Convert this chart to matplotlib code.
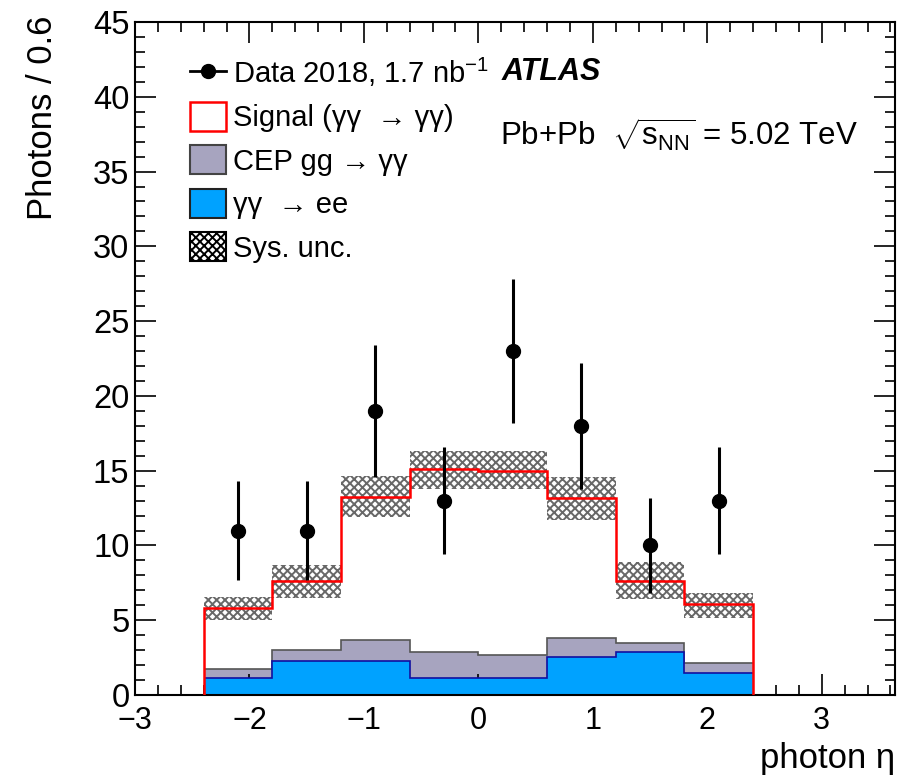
import matplotlib
matplotlib.use("Agg")
import matplotlib.pyplot as plt
from matplotlib.lines import Line2D
from matplotlib.patches import Patch
from matplotlib.ticker import MultipleLocator

plt.rcParams['font.family'] = ['Liberation Sans', 'DejaVu Sans']
plt.rcParams['mathtext.fontset'] = 'custom'
plt.rcParams['mathtext.rm'] = 'Liberation Sans'
plt.rcParams['mathtext.it'] = 'Liberation Sans:italic'
plt.rcParams['hatch.linewidth'] = 1.4

# binning in photon eta
edges = [-2.4, -1.8, -1.2, -0.6, 0.0, 0.6, 1.2, 1.8, 2.4]
centers = [-2.1, -1.5, -0.9, -0.3, 0.3, 0.9, 1.5, 2.1]

# data
data = [11, 11, 19, 13, 23, 18, 10, 13]
data_err = [3.3, 3.3, 4.4, 3.6, 4.8, 4.2, 3.2, 3.6]

# stacked predictions
ee = [1.16, 2.29, 2.29, 1.16, 1.16, 2.56, 2.85, 1.45]          # gamma gamma -> ee
ee_cep = [1.71, 3.0, 3.67, 2.9, 2.67, 3.83, 3.45, 2.12]         # + CEP gg -> gamma gamma
total = [5.8, 7.6, 13.25, 15.1, 15.0, 13.15, 7.65, 6.08]       # + signal
sys_hi = [6.57, 8.7, 14.64, 16.33, 16.3, 14.55, 8.91, 6.84]
sys_lo = [5.01, 6.46, 11.92, 13.8, 13.8, 11.73, 6.39, 5.17]

fig = plt.figure(figsize=(9.08, 7.77), dpi=100)
ax = fig.add_axes([0.1487, 0.1055, 0.837, 0.8662])

blue = '#00a2ff'
grey = '#a7a4bf'

ax.stairs(ee_cep, edges, baseline=ee, fill=True, color=grey, zorder=1)
ax.stairs(ee_cep, edges, baseline=None, color='#555555', lw=1.2, zorder=2)
ax.stairs(ee, edges, baseline=0, fill=True, color=blue, zorder=2)
ax.stairs(ee, edges, baseline=None, color='#1010a0', lw=1.2, zorder=3)

ax.stairs(sys_hi, edges, baseline=sys_lo, fill=True, facecolor='none',
          edgecolor='#686868', hatch='xxxx', lw=0, zorder=3)
ax.axhline(0, color='#ff8080', lw=1.8, zorder=1)
ax.stairs(total, edges, baseline=0, color='red', lw=1.8, zorder=4)

ax.errorbar(centers, data, yerr=data_err, fmt='o', color='black', ms=10,
            elinewidth=2.2, capsize=0, zorder=5)

ax.set_xlim(-3, 3.64)
ax.set_ylim(0, 45)
ax.xaxis.set_major_locator(MultipleLocator(1))
ax.xaxis.set_minor_locator(MultipleLocator(0.2))
ax.yaxis.set_major_locator(MultipleLocator(5))
ax.yaxis.set_minor_locator(MultipleLocator(1))
ax.tick_params(which='both', direction='in', top=True, right=True, width=1.2)
ax.tick_params(which='major', length=15)
ax.tick_params(which='minor', length=7.5)
ax.tick_params(axis='x', pad=8, labelsize=22)
ax.tick_params(axis='y', pad=4, labelsize=23.5)
for s in ax.spines.values():
    s.set_linewidth(1.5)

ax.set_ylabel('Photons / 0.6', fontsize=25, loc='top')
ax.yaxis.set_label_coords(-0.10, 1.01)
ax.set_xlabel('photon η', fontsize=25, loc='right')
ax.xaxis.set_label_coords(1.0, -0.07)

handles = [
    Line2D([], [], color='black', marker='o', ms=10, lw=2),
    Patch(facecolor='white', edgecolor='red', lw=1.8),
    Patch(facecolor=grey, edgecolor='#444444', lw=1.5),
    Patch(facecolor=blue, edgecolor='#222222', lw=1.5),
    Patch(facecolor='white', edgecolor='black', hatch='xxxx', lw=1.5),
]
labels = [r'Data 2018, 1.7 nb$^{\mathregular{-1}}$', 'Signal (γγ  → γγ)',
          'CEP gg → γγ', 'γγ  → ee', 'Sys. unc.']
ax.legend(handles, labels, loc='upper left', bbox_to_anchor=(0.072, 0.95),
          frameon=False, fontsize=21, borderpad=0, borderaxespad=0,
          handlelength=1.25, handleheight=1.15, handletextpad=0.25,
          labelspacing=0.45)

ax.text(0.483, 0.926, 'ATLAS', transform=ax.transAxes, fontsize=22,
        fontweight='bold', fontstyle='italic', va='center')
ax.text(0.48, 0.832, r'Pb+Pb  $\sqrt{\mathregular{s}_{\mathregular{NN}}}$ = 5.02 TeV',
        transform=ax.transAxes, fontsize=22.5, va='center')

fig.savefig('out.png', dpi=100)
